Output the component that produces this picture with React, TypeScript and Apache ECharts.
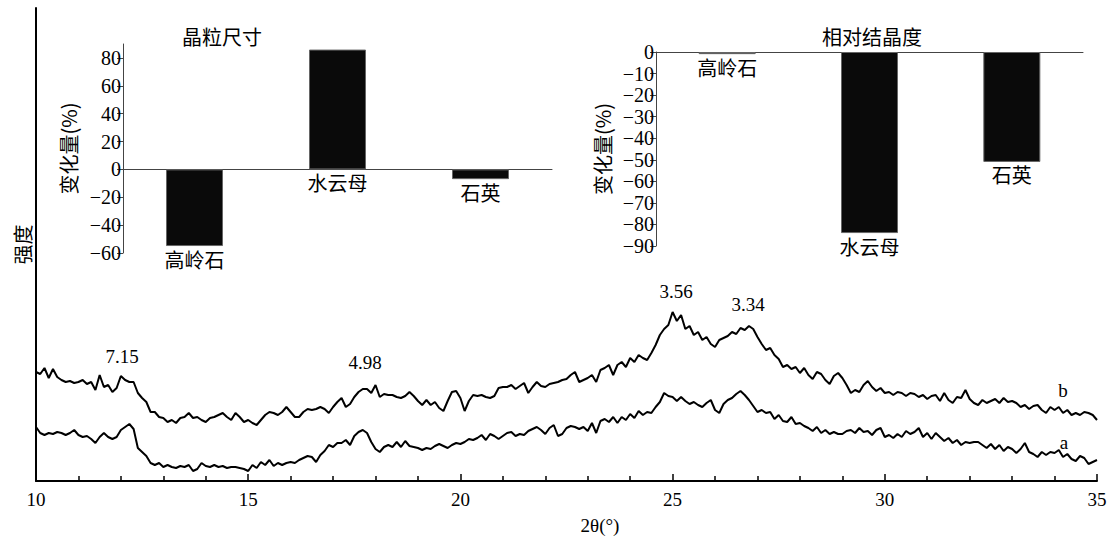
import React, { useEffect, useRef } from "react";
import * as echarts from "echarts";

// XRD curves, sampled every 0.1° from 10° to 35° (intensity, arbitrary units)
const X_START = 10;
const X_STEP = 0.1;
const curveB = [
  109,107,113,103,112,104,101,99,100,98,
  99,101,97,99,91,106,94,96,89,93,
  105,101,99,99,88,83,79,69,69,64,
  63,59,61,58,63,64,68,63,64,61,
  59,63,64,66,68,64,61,68,64,59,
  61,58,56,61,66,69,68,66,69,74,
  69,64,64,69,72,71,72,74,72,68,
  74,79,83,74,77,84,89,92,92,88,
  96,84,87,86,86,84,83,85,89,85,
  80,76,81,76,79,73,70,80,89,90,
  83,70,80,86,85,86,84,83,85,93,
  94,94,96,92,95,98,88,94,99,95,
  94,97,98,99,101,102,106,109,99,101,
  103,106,99,111,113,116,106,116,119,114,
  123,119,126,123,121,128,136,146,152,156,
  169,160,166,152,155,146,149,141,144,137,
  134,141,143,145,149,147,153,151,155,152,
  144,137,131,133,126,122,114,116,112,114,
  108,113,106,102,109,107,101,97,105,108,
  103,96,88,91,89,96,100,94,90,93,
  88,89,86,89,88,85,88,87,84,86,
  82,85,86,80,88,81,78,84,83,91,
  82,78,76,81,78,80,82,78,83,79,
  80,78,74,76,72,75,76,71,68,74,
  71,74,68,71,66,68,66,69,68,66,
  61,
];
const curveA = [
  54,48,46,48,47,49,48,46,48,51,
  46,44,45,42,38,44,48,44,42,44,
  51,54,57,52,33,29,25,18,16,18,
  14,16,14,13,15,14,16,10,12,18,
  15,14,16,14,15,13,14,14,13,12,
  10,16,13,19,16,21,15,18,16,18,
  19,18,21,23,25,24,19,26,30,36,
  34,38,38,41,36,45,49,51,48,39,
  32,29,34,36,34,39,34,40,35,34,
  33,31,33,32,35,37,35,33,36,38,
  37,39,42,41,43,46,41,47,45,42,
  45,48,49,45,47,46,50,52,54,51,
  47,53,56,45,47,53,55,54,52,54,
  50,58,48,60,62,59,64,58,64,61,
  67,63,70,66,69,68,74,79,88,85,
  84,80,84,80,77,79,76,74,78,81,
  71,68,77,81,83,87,90,86,81,75,
  69,71,68,69,62,66,60,59,64,57,
  58,55,53,50,54,48,51,47,49,47,
  47,50,51,48,53,49,50,46,51,53,
  44,46,43,47,44,50,47,49,53,44,
  48,42,48,44,40,43,38,41,36,39,
  38,39,39,36,33,37,32,36,30,34,
  32,28,32,38,29,27,24,29,26,29,
  28,31,24,27,22,20,25,23,17,19,
  21,
];
const curveNames = ["a", "b"];
const peakLabels = ["7.15", "4.98", "3.56", "3.34"];

// Inset bar charts
const minerals = ["高岭石", "水云母", "石英"];
const grainSizeChange = [-55, 86, -7];
const crystallinityChange = [-1, -84, -51];
const grainTicks = [-60, -40, -20, 0, 20, 40, 60, 80];
const crystTicks = [0, -10, -20, -30, -40, -50, -60, -70, -80, -90];
const insetTitles = ["晶粒尺寸", "相对结晶度"];

const SERIF = "Liberation Serif";
const CJK = "Noto Sans CJK SC";

const toPairs = (ys: number[]) => ys.map((y, i) => [+(X_START + i * X_STEP).toFixed(1), y]);
const minus = (v: number | string) => String(v).replace("-", "−");

export default function App() {
  const ref = useRef<HTMLDivElement>(null);
  useEffect(() => {
    if (!ref.current) return;
    const chart = echarts.init(ref.current, null, { renderer: "svg" });
    const barLabel = {
      show: true,
      position: "bottom" as const,
      distance: 3,
      formatter: "{b}",
      fontSize: 20,
      color: "#000",
      fontFamily: CJK,
    };
    const barStyle = { color: "#0a0a0a", borderColor: "#666", borderWidth: 1 };
    const insetYName = {
      name: "变化量(%)",
      nameLocation: "middle" as const,
      nameRotate: 90,
      nameTextStyle: { fontSize: 20, fontFamily: CJK, color: "#000" },
    };
    const txt = (text: string, x: number, y: number, size: number, font: string) => ({
      type: "text",
      x,
      y,
      style: { text, fontSize: size, fontFamily: font, fill: "#000", align: "center", verticalAlign: "middle" },
    });
    chart.setOption({
      animation: false,
      backgroundColor: "#fff",
      grid: [
        { left: 36, top: 8, width: 1061, height: 473 },
        { left: 123, top: 44, width: 429, height: 209 },
        { left: 656, top: 52, width: 427, height: 194 },
      ],
      xAxis: [
        {
          type: "value",
          gridIndex: 0,
          min: 10,
          max: 35,
          interval: 5,
          axisLine: { lineStyle: { color: "#000", width: 2 } },
          axisTick: { show: true, inside: true, length: 7, lineStyle: { color: "#000", width: 1.5 } },
          minorTick: { show: true, splitNumber: 5, length: 5, lineStyle: { color: "#000", width: 1.5 } },
          splitLine: { show: false },
          axisLabel: { fontSize: 19, fontFamily: SERIF, color: "#000", margin: 9 },
        },
        {
          type: "category",
          gridIndex: 1,
          data: minerals,
          axisLine: { onZero: true, lineStyle: { color: "#444", width: 1 } },
          axisTick: { show: false },
          axisLabel: { show: false },
        },
        {
          type: "category",
          gridIndex: 2,
          data: minerals,
          axisLine: { onZero: true, lineStyle: { color: "#444", width: 1 } },
          axisTick: { show: false },
          axisLabel: { show: false },
        },
      ],
      yAxis: [
        {
          type: "value",
          gridIndex: 0,
          min: 0,
          max: 473,
          name: "强度",
          nameLocation: "middle",
          nameRotate: 90,
          nameGap: 4,
          nameTextStyle: { fontSize: 20, fontFamily: CJK, color: "#000" },
          axisLine: { show: true, lineStyle: { color: "#000", width: 2 } },
          axisTick: { show: false },
          axisLabel: { show: false },
          splitLine: { show: false },
        },
        {
          type: "value",
          gridIndex: 1,
          min: -60,
          max: 90,
          interval: 20,
          ...insetYName,
          nameGap: 45,
          axisLine: { show: true, lineStyle: { color: "#444", width: 1 } },
          axisTick: { show: true, length: 6, customValues: grainTicks, lineStyle: { color: "#444" } },
          axisLabel: {
            customValues: grainTicks,
            formatter: minus,
            fontSize: 20,
            fontFamily: SERIF,
            color: "#000",
            margin: 2,
          },
          splitLine: { show: false },
        },
        {
          type: "value",
          gridIndex: 2,
          min: -90,
          max: 0,
          interval: 10,
          ...insetYName,
          nameGap: 44,
          axisLine: { show: true, lineStyle: { color: "#444", width: 1 } },
          axisTick: { show: true, length: 6, customValues: crystTicks, lineStyle: { color: "#444" } },
          axisLabel: {
            customValues: crystTicks,
            formatter: minus,
            fontSize: 20,
            fontFamily: SERIF,
            color: "#000",
            margin: 2,
          },
          splitLine: { show: false },
        },
      ],
      series: [
        {
          name: curveNames[0],
          type: "line",
          xAxisIndex: 0,
          yAxisIndex: 0,
          data: toPairs(curveA),
          showSymbol: false,
          lineStyle: { color: "#000", width: 2 },
        },
        {
          name: curveNames[1],
          type: "line",
          xAxisIndex: 0,
          yAxisIndex: 0,
          data: toPairs(curveB),
          showSymbol: false,
          lineStyle: { color: "#000", width: 2 },
        },
        {
          type: "bar",
          xAxisIndex: 1,
          yAxisIndex: 1,
          data: grainSizeChange,
          barWidth: 57,
          itemStyle: barStyle,
          label: barLabel,
        },
        {
          type: "bar",
          xAxisIndex: 2,
          yAxisIndex: 2,
          data: crystallinityChange,
          barWidth: 57,
          itemStyle: barStyle,
          label: barLabel,
        },
      ],
      graphic: [
        txt(insetTitles[0], 222, 36, 20, CJK),
        txt(insetTitles[1], 872, 36, 20, CJK),
        txt(peakLabels[0], 122, 356, 19, SERIF),
        txt(peakLabels[1], 365, 362, 19, SERIF),
        txt(peakLabels[2], 676, 291, 19, SERIF),
        txt(peakLabels[3], 748, 304, 19, SERIF),
        txt(curveNames[1], 1063, 390, 19, SERIF),
        txt(curveNames[0], 1064, 442, 19, SERIF),
        txt("2θ(°)", 600, 525, 19, SERIF),
      ],
    });
    return () => chart.dispose();
  }, []);
  return (
    <div
      ref={ref}
      style={{ position: "fixed", left: 0, top: 0, width: 1113, height: 544, background: "#fff" }}
    />
  );
}
